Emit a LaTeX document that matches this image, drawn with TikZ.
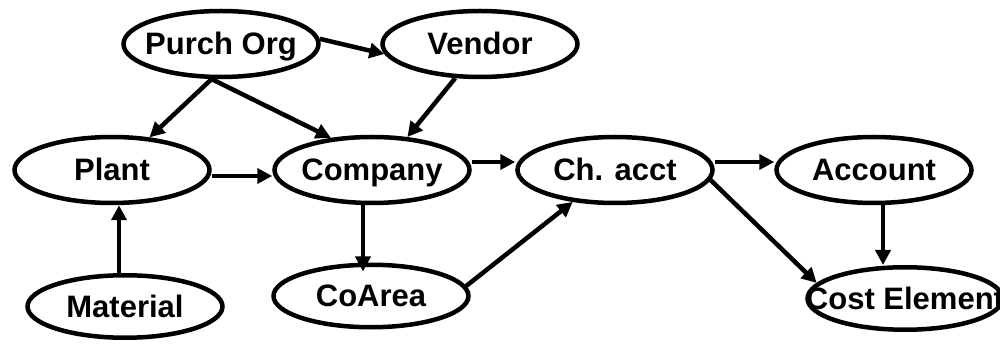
\documentclass[tikz,border=0pt]{standalone}
\usepackage{fontspec}
\setmainfont{Liberation Sans}
\usetikzlibrary{arrows.meta,shapes.geometric}
\newcommand\entlabel[1]{\makebox[0pt][c]{#1}}
\begin{document}
\begin{tikzpicture}[x=1pt,y=1pt,
  ent/.style={ellipse, draw, line width=4.5pt, minimum width=195pt,
    minimum height=66pt, inner sep=0pt,
    font=\fontsize{31}{31}\selectfont\bfseries,
    text height=22pt, text depth=0pt},
  low/.style={minimum height=62.5pt},
  arr/.style={line width=4.5pt, -{Triangle[length=15pt,width=15pt]}}]
\useasboundingbox (0,0) rectangle (1000,345);
\clip (0,0) rectangle (1000,345);

% entities
\node[ent] (po) at (221,301) {\entlabel{Purch Org}};
\node[ent] (ve) at (480,301) {\entlabel{Vendor}};
\node[ent] (pl) at (112,175) {\entlabel{Plant}};
\node[ent] (co) at (372,175) {\entlabel{Company}};
\node[ent] (ch) at (615,175) {\entlabel{Ch. acct}};
\node[ent] (ac) at (874,175) {\entlabel{Account}};
\node[ent,low] (ma) at (125,38.5) {\entlabel{Material}};
\node[ent,low] (ca) at (371,49) {\entlabel{CoArea}};
\node[ent,low] (ce) at (905,46.5) {\entlabel{Cost Element}};

% relationships
\draw[arr] (po.3) -- (ve.186);
\draw[arr] (po.255) -- (pl.41);
\draw[arr] (po.255) -- (co.142);
\draw[arr] (ve.234) -- (co.43);
\draw[arr] ([yshift=-6pt]pl.east) -- ([yshift=-6pt]co.west);
\draw[arr] ([yshift=8pt]co.east) -- ([yshift=8pt]ch.west);
\draw[arr] ([yshift=8pt]ch.east) -- ([yshift=8pt]ac.west);
\draw[arr] (ch.354) -- (ce.170);
\draw[arr] ([xshift=9pt]ac.south) -- ([xshift=9pt]ac.south |- ce.north);
\draw[arr,shorten >=-9pt] ([xshift=-9pt]co.south) -- ([xshift=-9pt]co.south |- ca.north);
\draw[arr] ([xshift=-6pt]ma.north) -- ([xshift=-6pt]ma.north |- pl.south);
\draw[arr] (ca.6) -- (ch.217);
\end{tikzpicture}
\end{document}
